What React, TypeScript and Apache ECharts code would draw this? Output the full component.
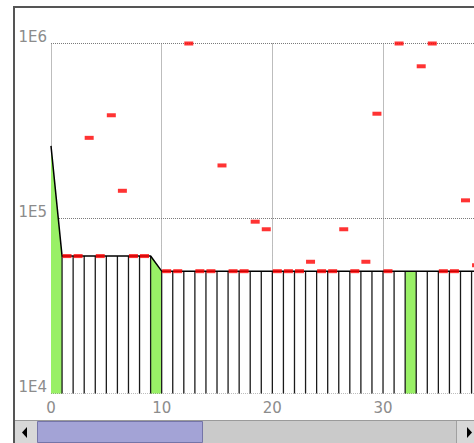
import React, { useEffect, useRef } from "react";
import * as echarts from "echarts";

// Step line values at x = 0, 1, 2, ... 40
const stepValues = [
  260000,
  61000, 61000, 61000, 61000, 61000, 61000, 61000, 61000, 61000,
  50000, 50000, 50000, 50000, 50000, 50000, 50000, 50000, 50000, 50000,
  50000, 50000, 50000, 50000, 50000, 50000, 50000, 50000, 50000, 50000,
  50000, 50000, 50000, 50000, 50000, 50000, 50000, 50000, 50000, 50000,
  50000,
];
const binStarts = [
  0, 1, 2, 3, 4, 5, 6, 7, 8, 9, 10, 11, 12, 13, 14, 15, 16, 17, 18, 19,
  20, 21, 22, 23, 24, 25, 26, 27, 28, 29, 30, 31, 32, 33, 34, 35, 36, 37, 38, 39,
];
const greenBins = [0, 9, 32];

// Red dashes: bin and value
const dashBins = [
  1, 2, 3, 4, 5, 6, 7, 8,
  10, 11, 12, 13, 14, 15, 16, 17, 18, 19,
  20, 21, 22, 23, 24, 25, 26, 27, 28, 29,
  30, 31,
  33, 34, 35, 36, 37, 38,
];
const dashValues = [
  61000, 61000, 289000, 61000, 389000, 144000, 61000, 61000,
  50000, 50000, 1000000, 50000, 50000, 201000, 50000, 50000, 95900, 86800,
  50000, 50000, 50000, 56600, 50000, 50000, 86800, 50000, 56600, 397000,
  50000, 1000000,
  741000, 1000000, 50000, 50000, 127000, 54000,
];

const yTickValues = [10000, 100000, 1000000];
const yTickLabels = ["1E4", "1E5", "1E6"];
const X_MIN = 0;
const X_MAX = 40;
const X_INTERVAL = 10;
const Y_MIN = 10000;
const Y_MAX = 1000000;

export default function App() {
  const ref = useRef<HTMLDivElement>(null);
  useEffect(() => {
    if (!ref.current) return;
    const chart = echarts.init(ref.current, null, { renderer: "svg" });
    const gridColor = "#7a7a7a";
    const labelColor = "#8c8c8c";
    const option: any = {
      animation: false,
      backgroundColor: "#ffffff",
      grid: {
        left: 51,
        top: 43.5,
        width: 442.7,
        height: 350,
        containLabel: false,
        outerBoundsMode: "none",
      },
      xAxis: {
        type: "value",
        min: X_MIN,
        max: X_MAX,
        interval: X_INTERVAL,
        axisLine: { show: false },
        axisTick: { show: false },
        axisLabel: {
          color: labelColor,
          fontFamily: "DejaVu Sans",
          fontSize: 15,
          margin: 7,
          showMaxLabel: false,
        },
        splitLine: {
          show: true,
          lineStyle: { color: gridColor, type: [1, 1], width: 1 },
        },
      },
      yAxis: {
        type: "log",
        logBase: 10,
        min: Y_MIN,
        max: Y_MAX,
        axisLine: { show: false },
        axisTick: { show: false },
        minorTick: { show: false },
        axisLabel: {
          color: labelColor,
          fontFamily: "DejaVu Sans",
          fontSize: 15,
          margin: 4,
          verticalAlign: "bottom",
          lineHeight: 14,
          formatter: (v: number) => {
            const idx = yTickValues.findIndex((t) => Math.abs(t - v) / t < 1e-6);
            return idx >= 0 ? yTickLabels[idx] : "";
          },
        },
        splitLine: {
          show: true,
          lineStyle: { color: gridColor, type: [1, 1], width: 1 },
        },
      },
      series: [
        {
          type: "custom",
          z: 2,
          encode: { x: 0, y: 1 },
          data: binStarts.map((i) => [
            i,
            stepValues[i],
            stepValues[i + 1],
            greenBins.includes(i) ? 1 : 0,
          ]),
          renderItem: (params: any, api: any) => {
            const i = api.value(0);
            const v0 = api.value(1);
            const v1 = api.value(2);
            const g = api.value(3);
            const bl = api.coord([i, Y_MIN]);
            const tl = api.coord([i, v0]);
            const tr = api.coord([i + 1, v1]);
            const br = api.coord([i + 1, Y_MIN]);
            const children: any[] = [
              {
                type: "polygon",
                shape: { points: [bl, tl, tr, br] },
                style: { fill: g ? "#99f066" : "#ffffff" },
              },
            ];
            if (i > 0) {
              children.push({
                type: "line",
                shape: { x1: bl[0], y1: bl[1], x2: tl[0], y2: tl[1] },
                style: { stroke: "#1a1a1a", lineWidth: 1.3 },
              });
            }
            return { type: "group", children };
          },
        },
        {
          type: "line",
          z: 3,
          symbol: "none",
          lineStyle: { color: "#000000", width: 1.5 },
          data: stepValues.map((v, i) => [i, v]),
        },
        {
          type: "scatter",
          z: 4,
          symbol: "rect",
          symbolSize: [9, 4],
          itemStyle: { color: "#ff0000" },
          data: dashBins.map((b, k) => [b + 0.45, dashValues[k]]),
        },
      ],
      graphic: [
        // frame
        { type: "line", shape: { x1: 13, y1: 7, x2: 474, y2: 7 }, style: { stroke: "#555555", lineWidth: 2 }, z: 100 },
        { type: "line", shape: { x1: 14, y1: 6, x2: 14, y2: 443 }, style: { stroke: "#555555", lineWidth: 2 }, z: 100 },
        // scrollbar track
        { type: "rect", shape: { x: 15, y: 420, width: 459, height: 23 }, style: { fill: "#cacaca" }, z: 100 },
        { type: "line", shape: { x1: 15, y1: 420.5, x2: 474, y2: 420.5 }, style: { stroke: "#9a9a9a", lineWidth: 1 }, z: 101 },
        // left button
        { type: "rect", shape: { x: 15, y: 421, width: 22, height: 22 }, style: { fill: "#d8d8d8" }, z: 101 },
        { type: "polygon", shape: { points: [[22, 432.5], [27, 427], [27, 438]] }, style: { fill: "#000000" }, z: 102 },
        // thumb
        { type: "rect", shape: { x: 37.5, y: 421.5, width: 165, height: 21 }, style: { fill: "#a3a3d6", stroke: "#7575a8", lineWidth: 1 }, z: 101 },
        // right button
        { type: "rect", shape: { x: 457, y: 421, width: 17, height: 22 }, style: { fill: "#d8d8d8" }, z: 101 },
        { type: "line", shape: { x1: 456.5, y1: 421, x2: 456.5, y2: 443 }, style: { stroke: "#a0a0a0", lineWidth: 1 }, z: 102 },
        { type: "polygon", shape: { points: [[467, 427], [467, 438], [472, 432.5]] }, style: { fill: "#000000" }, z: 102 },
      ],
    };
    chart.setOption(option);
    return () => chart.dispose();
  }, []);
  return (
    <div
      ref={ref}
      style={{ position: "absolute", left: 0, top: 0, width: 474, height: 443 }}
    />
  );
}
